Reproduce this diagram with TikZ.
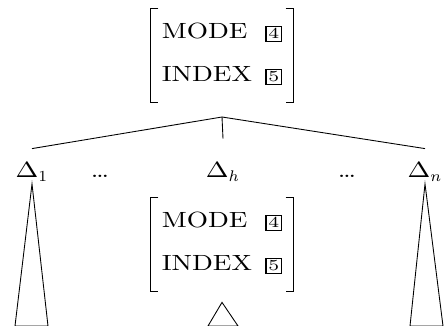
\documentclass[tikz,border=0pt]{standalone}
\usepackage{fontspec}
\setmainfont{Latin Modern Roman}[FakeStretch=1.24]
\newcommand{\boxnum}[1]{{\setlength{\fboxsep}{0.8pt}\setlength{\fboxrule}{0.6pt}\fbox{\scriptsize #1}}}
\begin{document}
\begin{tikzpicture}[x=0.4545pt,y=-0.4545pt,
  avm/.style={anchor=base,inner xsep=5pt,inner ysep=5.5pt},
  dnode/.style={anchor=base,inner sep=1pt}]
\useasboundingbox (0,0) rectangle (447,326);
% mother: feature structure
\node[avm] (top) at (222,39) {\begin{tabular}[t]{@{}l@{\hspace{6pt}}l@{}}MODE & \boxnum{4}\\[7.5pt]INDEX & \boxnum{5}\end{tabular}};
\draw ([xshift=3.6pt]top.north west) -| (top.south west) -- ++(8,0);
\draw ([xshift=-3.6pt]top.north east) -| (top.south east) -- ++(-8,0);
\coordinate (root) at (222,117);
% daughters
\node[dnode] (d1) at (32,178) {Δ$_1$};
\node[dnode] (dotsl) at (100,178) {\dots};
\node[dnode] (dh) at (223,178) {Δ$_h$};
\node[dnode] (dotsr) at (347,178) {\dots};
\node[dnode] (dn) at (425,178) {Δ$_n$};
\draw (root) -- ([yshift=5pt]d1.north);
\draw (root) -- ([yshift=9.5pt]dh.north);
\draw (root) -- ([yshift=5pt]dn.north);
% head daughter's feature structure
\node[avm] (mid) at (222,228) {\begin{tabular}[t]{@{}l@{\hspace{6pt}}l@{}}MODE & \boxnum{4}\\[7.5pt]INDEX & \boxnum{5}\end{tabular}};
\draw ([xshift=3.6pt]mid.north west) -| (mid.south west) -- ++(8,0);
\draw ([xshift=-3.6pt]mid.north east) -| (mid.south east) -- ++(-8,0);
% roofs
\coordinate (t1a) at (15,326);
\coordinate (t1b) at (48,326);
\coordinate (tma) at (208,326);
\coordinate (tmb) at (238,326);
\coordinate (tna) at (410,326);
\coordinate (tnb) at (443,326);
\draw (d1.south) -- (t1a) -- (t1b) -- cycle;
\draw ([yshift=-5pt]mid.south) -- (tma) -- (tmb) -- cycle;
\draw (dn.south) -- (tna) -- (tnb) -- cycle;
\end{tikzpicture}
\end{document}
